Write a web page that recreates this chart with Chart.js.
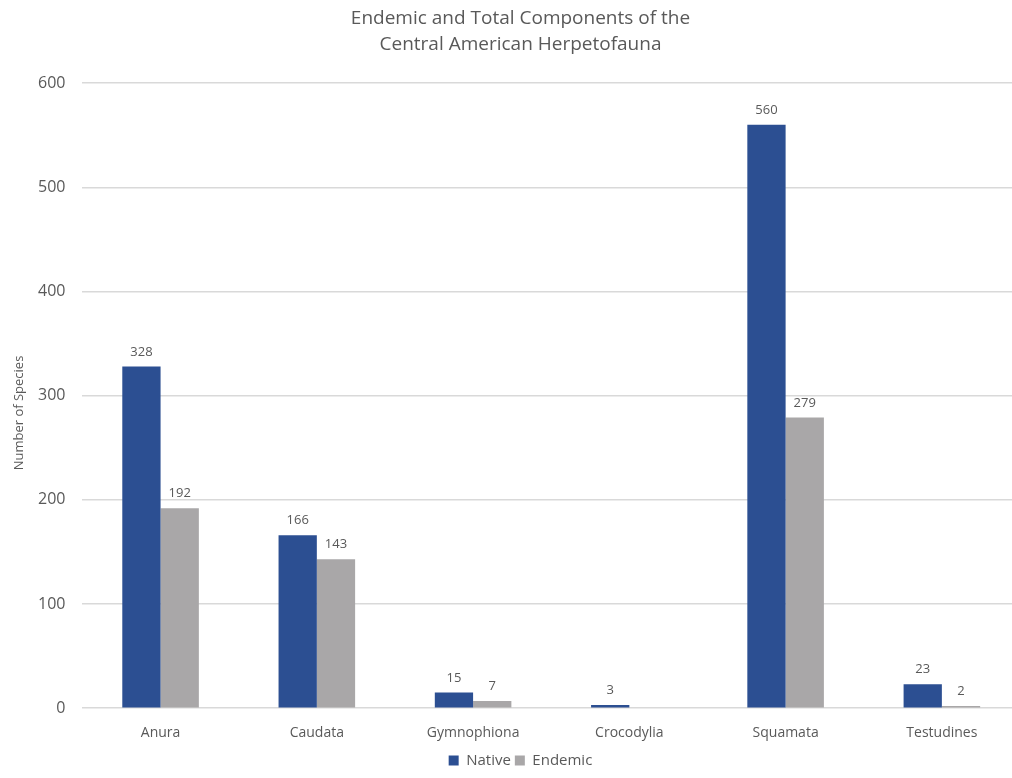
<!DOCTYPE html>
<html>
<head>
<meta charset="utf-8">
<script src="https://cdn.jsdelivr.net/npm/chart.js@4"></script>
<style>
    html, body { margin: 0; padding: 0; background: #fff; overflow: hidden; }
</style>
</head>
<body>
<canvas id="herps" width="1020" height="778"></canvas>
<script>
// categories and species counts
let orders = ['Anura', 'Caudata', 'Gymnophiona', 'Crocodylia', 'Squamata', 'Testudines'];
let native_counts = [328, 166, 15, 3, 560, 23];
let endemic_counts = [192, 143, 7, 0, 279, 2];
let y_ticks = [0, 100, 200, 300, 400, 500, 600];

let text_color = '#595959';
let font_family = '"Open Sans", Lato, sans-serif';

// little plugin: numbers over the bars (zero values left out)
let barValues = {
    id: 'barValues',
    afterDatasetsDraw: function (chart) {
        let ctx = chart.ctx;
        ctx.save();
        ctx.font = '13px ' + font_family;
        ctx.fillStyle = text_color;
        ctx.textAlign = 'center';
        ctx.textBaseline = 'bottom';
        chart.data.datasets.forEach(function (ds, i) {
            let meta = chart.getDatasetMeta(i);
            meta.data.forEach(function (bar, j) {
                if (!ds.data[j]) return;
                ctx.fillText(ds.data[j], bar.x, bar.y - 8);
            });
        });
        ctx.restore();
    }
};

// y axis title, drawn by hand because in the original it sits a bit below the middle
let yTitle = {
    id: 'yTitle',
    afterDraw: function (chart) {
        let ctx = chart.ctx;
        ctx.save();
        ctx.translate(19, 413);
        ctx.rotate(-Math.PI / 2);
        ctx.font = '13px ' + font_family;
        ctx.fillStyle = text_color;
        ctx.textAlign = 'center';
        ctx.textBaseline = 'middle';
        ctx.fillText('Number of Species', 0, 0);
        ctx.restore();
    }
};

window.addEventListener('load', function () {
    let ctx = document.getElementById('herps').getContext('2d');
    let chart = new Chart(ctx, {
        type: 'bar',
        data: {
            labels: orders,
            datasets: [{
                label: 'Native',
                data: native_counts,
                backgroundColor: '#2c4f92'
            }, {
                label: 'Endemic',
                data: endemic_counts,
                backgroundColor: '#a9a7a8'
            }]
        },
        options: {
            responsive: false,
            animation: false,
            categoryPercentage: 0.49,
            barPercentage: 1.0,
            layout: { padding: { top: 6, left: 21, right: 0, bottom: 0 } },
            plugins: {
                title: {
                    display: true,
                    text: ['Endemic and Total Components of the', 'Central American Herpetofauna'],
                    color: text_color,
                    font: { family: font_family, size: 19, weight: 'normal', lineHeight: 1.37 },
                    padding: { top: 0, bottom: 25 }
                },
                legend: {
                    position: 'bottom',
                    labels: {
                        color: text_color,
                        font: { family: font_family, size: 15 },
                        boxWidth: 10,
                        boxHeight: 10,
                        padding: 4
                    }
                },
                tooltip: { enabled: false }
            },
            scales: {
                x: {
                    grid: { display: false },
                    border: { display: false },
                    ticks: { color: text_color, font: { family: font_family, size: 14 }, padding: 8 }
                },
                y: {
                    min: 0,
                    max: 600,
                    afterBuildTicks: function (axis) {
                        axis.ticks = y_ticks.map(function (v) { return {value: v}; });
                    },
                    grid: { color: '#d9d9d9', lineWidth: 1.5, drawTicks: false },
                    border: { display: false },
                    ticks: { color: text_color, font: { family: font_family, size: 16 }, padding: 17 }
                }
            }
        },
        plugins: [barValues, yTitle]
    });
});
</script>
</body>
</html>
